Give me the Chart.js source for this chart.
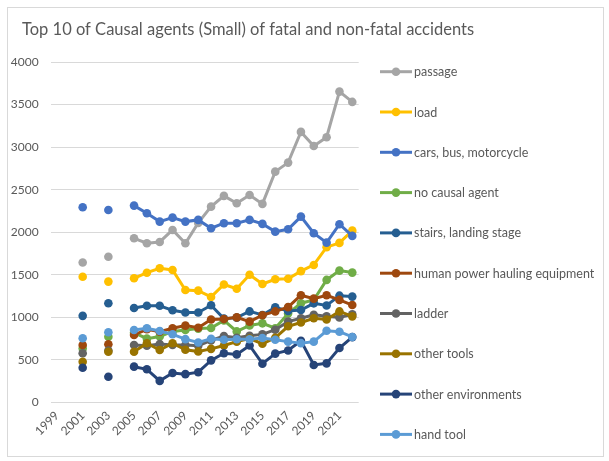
<!DOCTYPE html>
<html>
<head>
<meta charset="utf-8">
<script src="https://cdn.jsdelivr.net/npm/chart.js@4"></script>
<style>
  html, body { margin: 0; padding: 0; background: #fff; }
  #wrap { position: relative; width: 609px; height: 461px; }
  #frame { position: absolute; left: 7px; top: 7px; width: 597px; height: 450px; border: 1px solid #D9D9D9; box-sizing: border-box; pointer-events: none; }
  canvas { position: absolute; left: 0; top: 0; }
</style>
</head>
<body>
<div id="wrap">
  <canvas id="c" width="609" height="461"></canvas>
  <div id="frame"></div>
</div>
<script>
const years = ['1999','2000','2001','2002','2003','2004','2005','2006','2007','2008','2009','2010','2011','2012','2013','2014','2015','2016','2017','2018','2019','2020','2021','2022'];

const passage        = [null,null,1645,null,1713,null,1929,1871,1886,2027,1871,2110,2301,2427,2341,2438,2333,2712,2818,3179,3014,3116,3652,3531];
const load           = [null,null,1478,null,1420,null,1459,1525,1577,1557,1322,1314,1240,1386,1336,1500,1392,1448,1453,1543,1616,1825,1875,2019];
const carsBusMoto    = [null,null,2294,null,2262,null,2313,2223,2125,2172,2125,2145,2047,2106,2106,2145,2098,2007,2035,2184,1988,1878,2094,1957];
const noCausalAgent  = [null,null,635,null,773,null,820,750,775,835,852,868,875,965,835,905,930,872,1045,1166,1204,1440,1549,1526];
const stairs         = [null,null,1018,null,1166,null,1110,1136,1136,1083,1058,1058,1142,985,997,1070,1028,1118,1075,1087,1165,1140,1255,1244];
const humanPower     = [null,null,676,null,684,null,793,860,832,872,903,879,975,980,1000,950,1025,1070,1120,1260,1220,1260,1205,1145];
const ladder         = [null,null,578,null,610,null,676,668,686,676,676,666,730,780,760,785,800,855,950,989,1030,1012,1000,1035];
const otherTools     = [null,null,479,null,597,null,597,696,617,696,620,600,630,670,715,750,690,760,895,940,990,975,1070,1012];
const otherEnv       = [null,null,409,null,302,null,421,390,254,347,333,356,495,578,565,670,456,574,611,725,441,460,640,768];
const handTool       = [null,null,754,null,825,null,852,872,840,801,744,705,748,738,743,743,758,738,715,697,715,842,832,770];

const seriesNames  = ['passage','load','cars, bus, motorcycle','no causal agent','stairs, landing stage','human power hauling equipment','ladder','other tools','other environments','hand tool'];
const seriesData   = [passage, load, carsBusMoto, noCausalAgent, stairs, humanPower, ladder, otherTools, otherEnv, handTool];
const seriesColors = ['#A5A5A5','#FFC000','#4472C4','#70AD47','#255E91','#9E480E','#636363','#997300','#264478','#5B9BD5'];

const yTicks = { min: 0, max: 4000, step: 500 };
const titleText = 'Top 10 of Causal agents (Small) of fatal and non-fatal accidents';

const FONT = 'Lato, "Open Sans", sans-serif';
const TXT = '#595959';

const datasets = seriesNames.map((name, i) => ({
  label: name,
  data: seriesData[i],
  borderColor: seriesColors[i],
  backgroundColor: seriesColors[i],
  pointBackgroundColor: seriesColors[i],
  pointBorderColor: seriesColors[i],
  borderWidth: 3,
  pointRadius: 4.3,
  pointBorderWidth: 0,
  pointHoverRadius: 4.3,
  tension: 0,
  spanGaps: false,
  order: seriesNames.length - i
}));

const decorPlugin = {
  id: 'decor',
  afterDraw(chart) {
    const ctx = chart.ctx;
    ctx.save();
    // title
    ctx.fillStyle = TXT;
    ctx.font = '16.5px ' + FONT;
    ctx.textAlign = 'left';
    ctx.textBaseline = 'middle';
    ctx.fillText(titleText, 22, 30);
    // legend
    const x0 = 380, x1 = 412, ty = 71.7, gap = 40.3;
    chart.data.datasets.forEach((ds, i) => {
      const y = ty + i * gap;
      ctx.strokeStyle = ds.borderColor;
      ctx.lineWidth = 3;
      ctx.beginPath();
      ctx.moveTo(x0, y);
      ctx.lineTo(x1, y);
      ctx.stroke();
      ctx.fillStyle = ds.borderColor;
      ctx.beginPath();
      ctx.arc((x0 + x1) / 2, y, 4.3, 0, Math.PI * 2);
      ctx.fill();
      ctx.fillStyle = TXT;
      ctx.font = '12.5px ' + FONT;
      ctx.textAlign = 'left';
      ctx.textBaseline = 'middle';
      ctx.fillText(ds.label, x1 + 2, y + 0.5);
    });
    ctx.restore();
  }
};

new Chart(document.getElementById('c'), {
  type: 'line',
  data: { labels: years, datasets },
  plugins: [decorPlugin],
  options: {
    responsive: false,
    animation: false,
    devicePixelRatio: 1,
    layout: { padding: { left: 0, right: 250.3, top: 62, bottom: 0 } },
    plugins: {
      legend: { display: false },
      tooltip: { enabled: false },
      title: { display: false }
    },
    scales: {
      x: {
        type: 'category',
        offset: true,
        grid: { display: false, drawTicks: false },
        border: { display: false },
        ticks: {
          autoSkip: false,
          minRotation: 45,
          maxRotation: 45,
          padding: 6,
          color: TXT,
          font: { family: FONT, size: 12 },
          callback: function (v, i) { return i % 2 === 0 ? this.getLabelForValue(v) : ''; }
        },
        afterFit(s) { s.height = 58.5; }
      },
      y: {
        min: yTicks.min,
        max: yTicks.max,
        grid: { color: '#D9D9D9', lineWidth: 1, drawTicks: false },
        border: { display: false },
        ticks: {
          stepSize: yTicks.step,
          padding: 12,
          color: TXT,
          font: { family: FONT, size: 12 },
          callback: (v) => String(v)
        },
        afterFit(s) { s.width = 50.6; }
      }
    }
  }
});
</script>
</body>
</html>
